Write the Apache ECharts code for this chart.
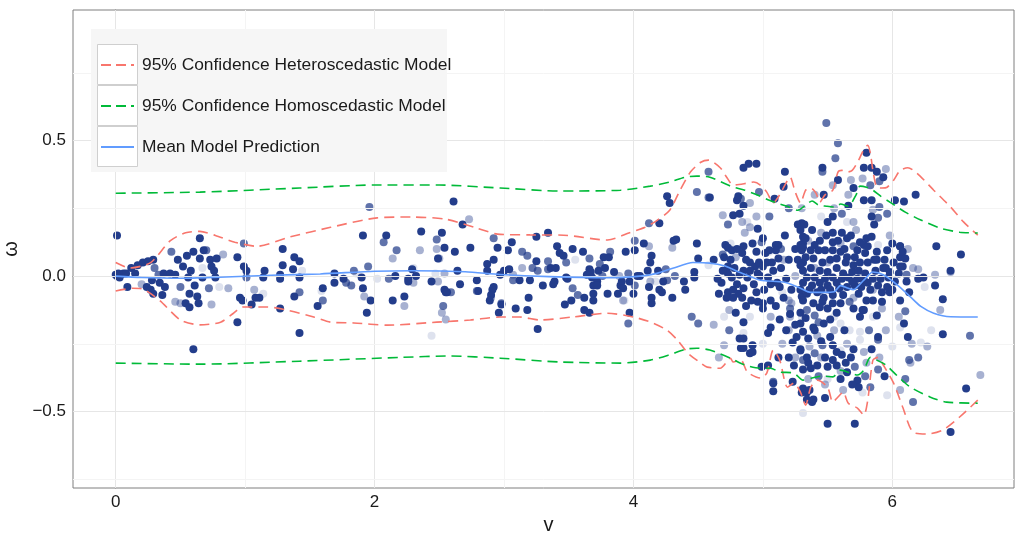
<!DOCTYPE html>
<html><head><meta charset="utf-8">
<script src="https://cdn.jsdelivr.net/npm/echarts@6/dist/echarts.min.js"></script>
<style>html,body{margin:0;padding:0;background:#fff}#c{width:1016px;height:534px}</style>
</head><body><div id="c"></div>
<script>
// ---------- DATA ----------
const xTicks = [0, 2, 4, 6];
const yTicks = [-0.5, 0, 0.5];
const xMinor = [1, 3, 5];
const yMinor = [-0.75, -0.25, 0.25, 0.75];
const legendNames = ['95% Confidence Heteroscedastic Model', '95% Confidence Homoscedastic Model', 'Mean Model Prediction'];

const pointsDark = [
[0.01,0.15],[0,0.005],[0.02,0.01],[0.04,0.005],[0.06,0.01],[0.03,-0.005],[0.08,0.01],[0.01,0.0],
[0.09,-0.04],[0.12,0.03],[0.15,0.01],[0.17,0.04],[0.21,0.05],[0.25,0.055],[0.29,0.06],
[0.24,-0.04],[0.27,-0.05],[0.28,-0.015],[0.29,-0.065],[0.34,-0.025],[0.36,-0.07],[0.37,0.01],[0.38,-0.04],
[0.42,0.01],[0.46,0.005],[0.48,0.06],[0.52,0.035],[0.54,-0.1],[0.55,0.075],[0.56,-0.005],[0.57,-0.115],[0.57,-0.065],[0.58,0.02],[0.6,0.09],[0.61,-0.035],[0.63,-0.075],[0.64,-0.1],[0.65,0.14],[0.65,0.065],[0.67,-0.005],[0.68,0.095],[0.73,0.06],[0.74,0.035],[0.76,0.02],[0.77,-0.005],[0.78,0.065],
[0.94,0.07],[0.94,-0.17],[0.99,0.035],[1.01,0.02],[0.96,-0.08],[0.98,-0.09],[1.05,-0.105],[1.08,-0.08],[1.11,-0.08],[1.15,0.02],[1.14,-0.005],
[1.27,0.005],[1.27,-0.01],[1.27,-0.12],[1.29,0.1],[1.29,0.04],[1.37,0.025],[1.38,0.07],[1.42,0.055],[1.42,-0.005],[1.38,-0.075],[1.42,-0.21],[1.56,-0.11],[1.6,-0.045],[0.6,-0.27],
[1.69,0.01],[1.69,-0.025],[1.76,-0.01],[1.9,-0.005],[1.91,-0.045],[1.91,0.15],[1.97,-0.09],[1.94,-0.135],[2.09,0.15],[2.16,0.0],[2.14,-0.09],[2.23,-0.075],[2.26,-0.01],[2.26,-0.02],[2.29,0.025],[2.32,0.0],[2.36,0.165],[2.44,-0.02],[2.49,0.065],[2.52,0.16],[2.54,0.105],[2.54,-0.05],[2.55,-0.06],[2.56,-0.06],[2.61,0.275],[2.62,0.09],[2.64,0.02],[2.66,-0.03],[2.68,0.19],[2.74,0.105],[2.79,-0.015],[2.8,-0.055],[2.87,0.045],[2.87,0.02],[2.92,0.06],[2.95,0.105],[2.92,-0.04],[2.91,-0.05],[2.9,-0.07],[2.89,-0.09],[2.97,0.005],[2.98,-0.105],[2.96,-0.135],[3.0,0.02],[3.03,0.095],[3.04,0.025],[3.06,0.125],[3.09,-0.12],[3.12,-0.015],[3.18,-0.125],[3.19,-0.08],[3.2,-0.015],[3.25,0.055],[3.25,0.145],[3.26,-0.195],[3.3,-0.035],[3.34,0.16],
[3.36,0.03],[3.4,0.03],[3.39,-0.02],[3.38,-0.03],[3.41,0.11],[3.43,0.085],[3.46,0.075],[3.48,-0.005],[3.49,-0.01],[3.53,0.1],[3.47,-0.105],[3.52,-0.09],[3.61,0.09],[3.62,-0.08],[3.62,-0.125],[3.66,-0.135],[3.66,0.025],[3.67,0.015],[3.64,0.005],[3.68,-0.005],[3.69,-0.035],[3.69,-0.065],[3.69,-0.09],[3.72,-0.02],[3.73,0.02],[3.72,-0.035],[3.77,0.07],[3.78,0.03],[3.8,-0.065],[3.81,0.07],[3.85,0.015],[3.88,-0.065],[3.9,-0.035],[3.91,-0.02],[3.94,0.09],[3.92,-0.045],[3.97,-0.02],[3.97,-0.135],[4.0,-0.065],[4.01,0.095],[4.03,0.0],[4.05,0.0],[4.08,0.12],[4.13,0.05],[4.14,0.075],[4.11,0.02],[4.12,-0.04],[4.14,-0.08],[4.14,-0.1],[4.19,0.02],[4.2,0.195],[4.2,-0.05],[4.22,-0.06],[4.23,-0.02],[4.26,0.295],[4.28,0.27],[4.3,-0.08],[4.31,0.13],[4.33,0.135],[4.39,-0.02],[4.4,-0.05],[4.47,-0.005],[4.47,0.015],[4.49,0.12],[4.5,0.065],
[4.89,0.415],[4.95,0.415],[4.85,0.4],[5.17,0.385],[4.59,0.29],[4.8,0.28],[4.81,0.295],[4.85,0.26],[4.77,0.225],[4.82,0.23],[4.96,0.175],[5.0,0.14],[5.1,0.115],[5.12,0.115],[5.1,0.095],[4.71,0.115],[4.73,0.105],[4.76,0.095],[4.85,0.11],[4.84,0.085],[4.95,0.09],[5.02,0.085],[5.05,0.095],[5.12,0.065],[5.07,0.05],[4.9,0.05],[4.94,0.035],[4.97,0.05],[5.0,0.035],[5.03,0.05],[4.9,0.02],[4.96,0.01],[4.73,0.035],[4.73,0.01],[4.76,-0.005],[4.82,0.005],[4.85,0.02],[4.88,-0.005],[5.04,-0.005],[5.06,-0.03],[5.11,-0.025],[5.13,-0.04],[4.68,-0.025],[4.66,-0.065],[4.73,-0.06],[4.77,-0.05],[4.81,-0.065],[4.85,-0.045],[4.91,-0.09],[4.96,-0.095],[5.0,-0.1],[5.06,-0.09],[4.84,-0.08],[4.77,-0.08],[4.72,-0.08],[5.0,-0.12],[4.79,-0.135],[4.85,-0.17],[5.06,-0.19],[5.04,-0.21],[4.82,-0.23],[4.85,-0.23],[4.92,-0.255],[4.9,-0.285],[4.99,-0.335],[5.04,-0.33],[5.12,-0.3],[5.08,-0.395],[4.83,-0.265],[4.85,-0.265],[4.92,-0.28],[5.08,-0.425],[5.23,-0.39],[5.31,-0.415],[5.34,-0.43],[5.38,-0.465],[5.16,0.33],[5.09,0.285],[5.27,0.19],[5.3,0.195],[5.31,0.12],[5.3,0.095],[5.27,0.06],[5.31,0.05],[5.3,-0.075],[5.29,-0.135],[5.29,-0.175],[5.26,-0.225],[5.23,-0.245],[5.29,-0.27],[5.35,-0.32],[5.31,-0.345],[5.3,-0.43],[5.34,-0.455],
[4.62,0.06],[4.65,-0.01],[4.7,0.07],[4.75,0.06],[4.78,0.03],[4.8,0.1],[4.87,0.06],[4.92,0.12],[4.93,-0.03],[4.98,0.0],[5.01,-0.05],[5.08,0.02],[5.14,0.03],[5.18,-0.01],[5.2,0.06],[5.22,-0.05],[5.25,0.1],[5.17,0.15],[4.95,-0.06],[4.87,-0.11],[4.8,-0.03],[4.69,0.02],[5.1,-0.11],[5.16,-0.08],[5.21,-0.14],[5.25,-0.18],[5.18,-0.2],[5.13,-0.16],[5.2,-0.3],[5.24,-0.33],
[5.8,0.455],[5.46,0.4],[5.78,0.4],[5.84,0.4],[5.88,0.385],[5.58,0.355],[5.7,0.325],[5.93,0.365],[5.47,0.3],[5.78,0.28],[5.84,0.28],[5.66,0.26],[5.54,0.22],[6.02,0.28],[5.84,0.22],[5.86,0.19],[5.32,0.19],[5.29,0.17],[5.31,0.145],[5.29,0.115],
[5.54,0.16],[5.61,0.16],[5.49,0.15],[5.44,0.13],[5.65,0.14],[5.75,0.125],[5.8,0.14],[5.84,0.145],[5.78,0.115],[6.0,0.12],[6.06,0.11],[5.54,0.125],[5.4,0.115],
[5.31,0.105],[5.37,0.095],[5.43,0.095],[5.48,0.095],[5.54,0.095],[5.6,0.09],[5.65,0.07],[5.71,0.07],[5.79,0.085],[5.88,0.09],[5.96,0.095],[6.06,0.07],[5.33,0.07],[5.39,0.065],[5.46,0.05],[5.52,0.06],[5.57,0.065],[5.64,0.05],[5.7,0.04],[5.75,0.05],[5.81,0.05],[5.88,0.06],[5.94,0.06],[6.01,0.05],[6.08,0.035],[5.29,0.04],
[5.31,0.02],[5.37,0.03],[5.44,0.02],[5.5,0.015],[5.57,0.03],[5.62,0.01],[5.69,0.015],[5.74,0.02],[5.79,0.01],[5.87,0.02],[5.93,0.03],[5.98,0.015],[6.05,0.01],[5.34,-0.005],[5.4,-0.005],[5.48,-0.01],[5.54,-0.005],[5.61,-0.01],[5.66,-0.005],[5.73,-0.01],[5.78,-0.015],[5.85,-0.01],[5.91,-0.01],[5.97,-0.005],[6.02,-0.02],[5.31,-0.025],[5.38,-0.035],[5.44,-0.025],[5.5,-0.035],[5.57,-0.025],[5.65,-0.04],[5.71,-0.035],[5.81,-0.025],[5.89,-0.035],[5.96,-0.04],[5.98,-0.06],[5.29,-0.05],
[5.34,-0.065],[5.42,-0.06],[5.47,-0.08],[5.54,-0.07],[5.62,-0.07],[5.74,-0.065],[5.85,-0.09],[5.92,-0.095],[5.46,-0.095],[5.39,-0.1],[5.54,-0.1],[5.77,-0.125],[5.88,-0.145],[6.06,-0.09],[5.57,-0.135],[5.44,-0.115],
[5.33,-0.155],[5.47,-0.175],[5.4,-0.2],[5.39,-0.19],[5.75,-0.15],[5.78,-0.125],[5.89,-0.225],[5.52,-0.225],[5.31,-0.205],[5.54,-0.255],
[5.29,-0.275],[5.34,-0.3],[5.48,-0.3],[5.54,-0.31],[5.61,-0.29],[5.68,-0.3],[5.64,-0.32],[5.57,-0.33],[5.65,-0.355],[5.5,-0.335],[5.37,-0.34],[5.73,-0.385],[5.74,-0.41],[5.94,-0.37],[5.31,-0.42],[5.39,-0.455],[5.5,-0.545],[5.71,-0.545],
[5.33,0.14],[5.38,0.17],[5.5,0.2],[5.58,0.13],[5.63,0.1],[5.68,0.15],[5.73,0.095],[5.81,0.11],[5.86,0.06],[5.95,0.03],[6.0,-0.05],[5.92,-0.06],[5.83,-0.05],[5.76,-0.04],[5.69,-0.02],[5.59,-0.045],[5.52,-0.05],[5.45,-0.05],[5.36,-0.05],[5.31,-0.09],[5.5,-0.12],[5.6,-0.1],[5.7,-0.12],[5.8,-0.09],[5.52,-0.16],[5.63,-0.2],[5.45,-0.24],[5.35,-0.23],[5.57,-0.28],[5.7,-0.27],[5.84,-0.27],[5.42,-0.33],[5.6,-0.38],[5.69,-0.4],[5.48,-0.45],[5.36,-0.42],
[6.18,0.3],[6.09,0.275],[6.34,0.11],[6.53,0.08],[6.45,0.02],[6.24,-0.005],[6.2,-0.01],[6.33,-0.035],[6.11,-0.02],[6.06,0.11],[6.08,0.09],[6.1,0.065],[6.06,0.035],[6.13,-0.06],[6.09,-0.175],[6.39,-0.085],[6.12,-0.225],[6.39,-0.215],[6.57,-0.415],[6.45,-0.575]
];

const pointsMid = [
[0.3,0.03],[0.33,0.005],[0.43,0.09],[0.5,-0.04],[0.7,0.095],[0.72,-0.045],[0.99,0.12],[1.01,-0.005],[1.42,-0.06],
[1.96,0.255],[2.07,0.125],[2.17,0.095],[1.95,0.035],[1.84,0.02],[1.6,-0.09],[1.78,-0.025],[1.82,-0.035],[2.11,-0.01],[2.48,0.135],[2.59,-0.06],[2.53,-0.11],[2.79,-0.055],[2.92,0.14],[2.98,-0.1],[3.07,-0.015],[3.14,0.09],[3.18,0.075],[3.22,0.03],[3.26,0.02],[3.34,0.055],[3.34,0.025],
[3.48,0.05],[3.53,-0.045],[3.57,-0.07],[3.66,0.065],[3.74,0.045],[3.76,0.0],[3.82,0.09],[3.96,0.01],[4.01,0.13],[3.96,-0.175],[4.01,-0.035],[4.25,0.025],[4.26,-0.015],[4.12,0.195],[4.32,0.0],[4.45,-0.15],[4.5,-0.175],[4.49,0.31],[4.58,0.385],[4.58,0.29],
[4.97,0.31],[5.05,0.22],[4.73,0.19],[4.83,0.285],[4.69,0.08],[4.99,0.125],[5.2,0.25],[5.14,0.1],[4.74,-0.2],[5.21,-0.12],[5.31,-0.31],[5.08,-0.39],
[5.49,0.565],[5.58,0.49],[5.56,0.435],[5.46,0.385],[5.83,0.335],[5.9,0.35],[5.61,0.23],[5.9,0.255],[5.96,0.23],[5.89,0.215],
[5.7,0.11],[5.67,-0.095],[5.34,-0.125],[5.4,-0.145],[5.43,-0.17],[5.82,-0.2],[5.46,-0.255],[5.89,-0.235],[5.4,-0.285],[5.71,-0.335],[5.43,-0.37],[5.79,-0.37],[5.83,-0.41],[5.89,-0.345],
[6.11,0.005],[6.1,-0.13],[6.6,-0.22],[6.2,-0.3],[6.13,-0.31],[6.1,-0.38],[6.16,-0.465]
];

const pointsLight = [
[0.46,-0.095],[0.74,-0.105],[0.83,0.08],[0.87,-0.045],[1.07,-0.05],[0.2,-0.03],[0.5,-0.1],
[2.14,0.065],[1.92,-0.075],[2.23,-0.11],[2.3,-0.025],[2.48,0.1],[2.5,0.065],[2.54,0.01],[2.49,-0.02],[2.52,-0.135],[2.55,-0.16],[2.35,0.095],[2.73,0.21],[2.9,-0.08],[3.07,0.005],[3.14,0.03],
[3.89,0.0],[3.92,-0.09],[4.13,-0.02],[4.12,0.11],[4.3,0.105],
[4.9,0.27],[4.69,0.225],[4.84,0.2],[4.95,0.22],[4.86,0.16],[5.16,0.06],[4.79,0.07],[4.9,0.18],[5.06,-0.15],[4.74,-0.125],[5.2,-0.09],[4.62,-0.18],[4.7,-0.255],[4.66,-0.3],[5.21,-0.15],
[5.95,0.395],[5.68,0.355],[5.77,0.36],[5.54,0.335],[5.85,0.245],[5.4,0.3],[5.66,0.3],
[5.35,0.13],[5.45,0.16],[5.6,0.12],[5.72,0.17],[5.5,-0.05],[5.6,-0.05],[5.7,-0.08],[5.42,-0.22],[5.55,-0.2],[5.65,-0.25],[5.78,-0.28],[5.9,-0.3],[5.36,-0.26],[5.48,-0.4],[5.62,-0.42],[5.25,-0.3],[5.2,-0.2],[5.15,-0.25],[5.25,0.0],[5.22,-0.1],[5.95,-0.2],[6.05,-0.15],[5.98,0.15],[5.92,-0.12],[5.3,0.25],[5.55,0.25],[5.7,0.2],[5.35,-0.38],[5.45,-0.3],[5.6,-0.35],[5.8,-0.32],[5.85,-0.05],[5.5,0.05],[5.4,0.03],[6.06,-0.42],
[6.2,0.025],[6.33,0.005],[6.45,0.015],[6.37,-0.125],[6.15,-0.25],[6.27,-0.26],[6.14,-0.32],[6.68,-0.365],[6.12,0.1],[6.16,0.03]
];

const pointsFaint = [
[1.14,-0.065],[1.44,0.02],[1.59,-0.055],[0.67,0.03],[0.8,-0.04],
[1.86,0.01],[2.02,-0.01],[2.44,-0.22],[2.3,0.03],[2.47,0.01],
[3.93,-0.09],[4.17,-0.02],[3.55,0.06],
[4.75,0.12],[4.88,0.2],[4.9,-0.15],[5.15,-0.06],[4.58,0.04],[5.05,0.09],[4.85,-0.21],[4.7,-0.15],[5.0,-0.25],
[5.89,0.115],[5.75,-0.205],[5.67,-0.2],[5.6,-0.175],[5.6,-0.275],[5.75,-0.235],[6.06,-0.19],[6.0,-0.26],[5.77,-0.43],[5.31,-0.505],[5.96,-0.44],
[5.45,0.22],[5.65,0.2],[5.55,-0.15],[5.85,-0.15],[5.3,-0.15],[5.75,0.0],[5.5,-0.38],[6.22,-0.245],[6.3,-0.2],[6.25,-0.04]
];

const hetUpper = [[0,0.05],[0.11,0.03],[0.27,0.05],[0.42,0.13],[0.54,0.16],[0.65,0.165],[0.77,0.15],[0.92,0.125],[1.09,0.11],[1.35,0.145],[1.66,0.18],[2.02,0.215],[2.28,0.218],[2.55,0.21],[2.79,0.177],[2.95,0.155],[3.2,0.152],[3.46,0.151],[3.8,0.133],[3.97,0.16],[4.09,0.18],[4.18,0.205],[4.28,0.243],[4.36,0.317],[4.44,0.384],[4.52,0.42],[4.58,0.428],[4.67,0.4],[4.72,0.365],[4.77,0.336],[4.88,0.343],[4.93,0.347],[4.98,0.336],[5.03,0.31],[5.08,0.27],[5.13,0.3],[5.17,0.336],[5.21,0.365],[5.25,0.31],[5.29,0.27],[5.33,0.317],[5.37,0.325],[5.41,0.306],[5.44,0.273],[5.48,0.3],[5.54,0.317],[5.58,0.384],[5.61,0.39],[5.65,0.384],[5.69,0.39],[5.74,0.428],[5.77,0.458],[5.81,0.483],[5.83,0.454],[5.85,0.39],[5.88,0.328],[5.92,0.325],[5.96,0.328],[6.01,0.354],[6.06,0.39],[6.12,0.4],[6.19,0.38],[6.32,0.317],[6.45,0.255],[6.55,0.2],[6.66,0.151]];
const hetLower = [[0,-0.055],[0.13,-0.045],[0.21,-0.048],[0.34,-0.09],[0.5,-0.162],[0.65,-0.18],[0.81,-0.17],[0.91,-0.137],[0.98,-0.114],[1.17,-0.114],[1.32,-0.125],[1.53,-0.151],[1.66,-0.17],[1.84,-0.173],[2.1,-0.181],[2.48,-0.17],[2.74,-0.162],[2.97,-0.151],[3.12,-0.151],[3.28,-0.162],[3.53,-0.151],[3.8,-0.137],[4.0,-0.151],[4.15,-0.173],[4.26,-0.2],[4.34,-0.236],[4.42,-0.284],[4.52,-0.321],[4.57,-0.336],[4.67,-0.34],[4.75,-0.303],[4.77,-0.317],[4.83,-0.31],[4.88,-0.354],[4.98,-0.376],[5.03,-0.358],[5.08,-0.273],[5.13,-0.31],[5.19,-0.41],[5.24,-0.395],[5.29,-0.428],[5.33,-0.476],[5.37,-0.41],[5.42,-0.384],[5.5,-0.41],[5.54,-0.465],[5.58,-0.446],[5.62,-0.428],[5.66,-0.469],[5.73,-0.487],[5.78,-0.513],[5.81,-0.458],[5.85,-0.31],[5.89,-0.3],[5.93,-0.328],[6.01,-0.395],[6.08,-0.483],[6.16,-0.576],[6.27,-0.583],[6.39,-0.568],[6.52,-0.52],[6.66,-0.458]];
const homUpper = [[0,0.306],[0.65,0.31],[1.42,0.325],[2.0,0.336],[2.5,0.336],[2.97,0.325],[3.43,0.314],[3.9,0.317],[4.13,0.332],[4.28,0.347],[4.4,0.365],[4.49,0.369],[4.59,0.365],[4.75,0.332],[4.86,0.317],[4.98,0.295],[5.05,0.28],[5.13,0.266],[5.2,0.255],[5.27,0.243],[5.33,0.262],[5.38,0.277],[5.43,0.262],[5.49,0.258],[5.56,0.255],[5.6,0.266],[5.66,0.258],[5.72,0.3],[5.75,0.332],[5.8,0.328],[5.85,0.317],[5.91,0.295],[5.99,0.27],[6.1,0.236],[6.22,0.207],[6.37,0.177],[6.52,0.162],[6.66,0.159]];
const homLower = [[0,-0.321],[0.65,-0.325],[1.42,-0.314],[2.2,-0.3],[2.58,-0.295],[2.97,-0.303],[3.43,-0.317],[3.9,-0.321],[4.13,-0.31],[4.28,-0.29],[4.4,-0.27],[4.49,-0.266],[4.59,-0.273],[4.75,-0.303],[4.86,-0.328],[4.98,-0.34],[5.06,-0.34],[5.13,-0.354],[5.24,-0.358],[5.31,-0.384],[5.38,-0.376],[5.46,-0.369],[5.54,-0.372],[5.6,-0.347],[5.68,-0.358],[5.73,-0.365],[5.78,-0.347],[5.83,-0.3],[5.88,-0.31],[5.95,-0.328],[6.04,-0.369],[6.14,-0.41],[6.29,-0.446],[6.42,-0.465],[6.66,-0.469]];
const meanLine = [[0,0],[0.2,-0.005],[0.5,-0.008],[0.8,-0.004],[1.2,0.003],[1.58,0.008],[2.0,0.018],[2.3,0.02],[2.7,0.016],[2.97,0.006],[3.35,-0.002],[3.8,-0.006],[4.05,0.0],[4.18,0.01],[4.31,0.03],[4.46,0.05],[4.59,0.048],[4.7,0.038],[4.83,0.012],[4.98,-0.015],[5.16,-0.022],[5.27,-0.04],[5.37,-0.06],[5.47,-0.06],[5.55,-0.058],[5.6,-0.035],[5.66,-0.045],[5.7,-0.05],[5.78,-0.015],[5.85,0.015],[5.93,0.005],[6.04,-0.033],[6.14,-0.077],[6.22,-0.112],[6.32,-0.137],[6.45,-0.15],[6.66,-0.151]];

// ---------- CHART ----------
const RED = '#f8766d', GREEN = '#00ba38', BLUE = '#619cff', DOT = '#233d8b';
const FONT = 'Liberation Sans, Arial, Helvetica, sans-serif';
const chart = echarts.init(document.getElementById('c'), null, {renderer: 'canvas'});

const gridLines = [];
xTicks.forEach(v => gridLines.push({xAxis: v, lineStyle: {color: '#e6e6e6', width: 1, type: 'solid'}}));
xMinor.forEach(v => gridLines.push({xAxis: v, lineStyle: {color: '#f4f4f4', width: 1, type: 'solid'}}));
yTicks.forEach(v => gridLines.push({yAxis: v, lineStyle: {color: '#e6e6e6', width: 1, type: 'solid'}}));
yMinor.forEach(v => gridLines.push({yAxis: v, lineStyle: {color: '#f4f4f4', width: 1, type: 'solid'}}));

function scat(data, op) {
  return {type: 'scatter', data: data, symbolSize: 8, silent: true, animation: false,
    itemStyle: {color: DOT, opacity: op}, z: 2};
}
function line(data, color, dashed) {
  return {type: 'line', data: data, showSymbol: false, symbol: 'none', smooth: 0.25, silent: true, animation: false,
    lineStyle: {color: color, width: 1.6, type: dashed ? [10, 6] : 'solid'}, z: 5};
}

const legendItems = [];
[RED, GREEN, BLUE].forEach((c, i) => {
  const cy = 65 + 41 * i;
  legendItems.push({type: 'rect', shape: {x: 97.5, y: 44.5 + 41 * i, width: 40, height: 40},
    style: {fill: '#ffffff', stroke: '#cfcfcf', lineWidth: 1}, z: 101});
  legendItems.push({type: 'line', shape: {x1: 101, y1: cy, x2: 134, y2: cy},
    style: {stroke: c, lineWidth: 2, lineDash: i === 2 ? null : [10, 5]}, z: 102});
  legendItems.push({type: 'text', x: 142, y: cy,
    style: {text: legendNames[i], fill: '#1a1a1a', font: '17.4px ' + FONT, verticalAlign: 'middle', align: 'left'}, z: 102});
});

chart.setOption({
  backgroundColor: '#ffffff',
  animation: false,
  grid: {left: 73, right: 2, top: 10, bottom: 46, show: true, borderColor: '#7f7f7f', borderWidth: 1,
    backgroundColor: 'transparent', containLabel: false, outerBoundsMode: 'none'},
  xAxis: {type: 'value', min: -0.33, max: 6.94,
    name: 'v', nameLocation: 'middle', nameGap: 25,
    nameTextStyle: {fontFamily: FONT, fontSize: 20, color: '#1a1a1a', padding: [0, 0, 0, 10]},
    axisLine: {show: true, lineStyle: {color: '#7f7f7f'}},
    axisTick: {show: true, inside: false, length: 4, lineStyle: {color: '#333'}, customValues: xTicks},
    axisLabel: {show: true, margin: 6, fontFamily: FONT, fontSize: 17, color: '#1a1a1a', customValues: xTicks},
    splitLine: {show: false}
  },
  yAxis: {type: 'value', min: -0.782, max: 0.982,
    name: 'ω', nameLocation: 'middle', nameGap: 49, nameRotate: 90,
    nameTextStyle: {fontFamily: FONT, fontSize: 20, color: '#1a1a1a'},
    axisLine: {show: true, lineStyle: {color: '#7f7f7f'}},
    axisTick: {show: true, inside: false, length: 4, lineStyle: {color: '#333'}, customValues: yTicks},
    axisLabel: {show: true, margin: 7, fontFamily: FONT, fontSize: 17, color: '#1a1a1a', customValues: yTicks,
      formatter: v => (v < 0 ? '\u2212' : '') + Math.abs(v).toFixed(1)},
    splitLine: {show: false}
  },
  graphic: [{type: 'rect', shape: {x: 91, y: 29, width: 356, height: 143}, style: {fill: '#f6f6f6'}, z: 100}].concat(legendItems),
  series: [
    {type: 'scatter', data: [], silent: true, z: 0,
      markLine: {silent: true, symbol: ['none', 'none'], label: {show: false}, animation: false, data: gridLines}},
    scat(pointsFaint, 0.15),
    scat(pointsLight, 0.4),
    scat(pointsMid, 0.72),
    scat(pointsDark, 1),
    line(hetUpper, RED, true),
    line(hetLower, RED, true),
    line(homUpper, GREEN, true),
    line(homLower, GREEN, true),
    line(meanLine, BLUE, false)
  ]
});
</script></body></html>
